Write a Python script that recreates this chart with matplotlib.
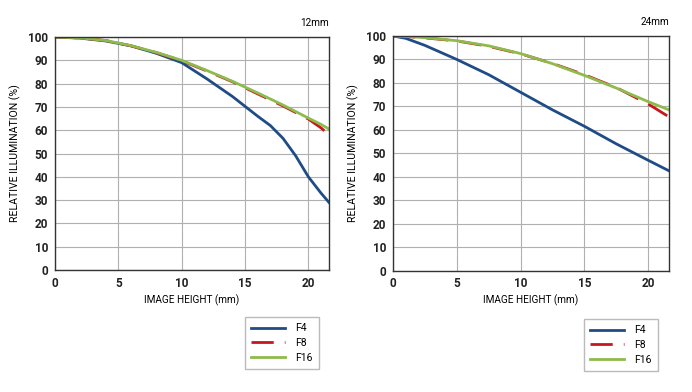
import matplotlib
matplotlib.use("Agg")
import matplotlib.pyplot as plt
from matplotlib.lines import Line2D

plt.rcParams['font.family'] = ['Roboto', 'DejaVu Sans']

# 12mm
h12 = [0, 2, 4, 6, 8, 10, 12, 14, 16, 17, 18, 19, 20, 21, 21.63]
f4_12 = [100, 99.5, 98.3, 96.2, 93, 89, 82, 74.5, 66, 62, 56.5, 49, 40, 33, 29]
h12b = [0, 2, 4, 6, 8, 10, 12, 14, 16, 18, 20, 21, 21.63]
f16_12 = [100, 99.6, 98.5, 96.3, 93.4, 90, 85.6, 81, 76, 70.8, 65.2, 62.5, 60.5]
f8_12 = [100, 99.6, 98.5, 96.2, 93.3, 89.8, 85.4, 80.8, 75.6, 70.4, 64.8, 61, 58]

# 24mm
h24 = [0, 1, 2.5, 5, 7.5, 10, 12.5, 15, 17.5, 20, 21.63]
f4_24 = [100, 99, 96, 90, 83.5, 76, 68.5, 61.5, 54, 47, 42.5]
f16_24 = [100, 99.8, 99.3, 98, 95.8, 92.5, 88.2, 83.2, 77.8, 72, 68.5]
f8_24 = [100, 99.8, 99.2, 97.9, 95.6, 92.4, 88.3, 83.5, 78, 71, 65.5]

c_f4 = '#1f4c86'
c_f8 = '#c8161d'
c_f16 = '#8fba4c'

fig = plt.figure(figsize=(6.92, 3.92), dpi=100)

def setup(ax, title):
    ax.set_xlim(0, 21.63)
    ax.set_ylim(0, 100)
    ax.set_xticks([0, 5, 10, 15, 20])
    ax.set_yticks(range(0, 101, 10))
    ax.grid(True, color='#b0b0b0', linewidth=0.8)
    ax.set_axisbelow(True)
    for s in ax.spines.values():
        s.set_color('#333333')
        s.set_linewidth(1.0)
    ax.tick_params(length=0, labelsize=8.5, pad=5, colors='#222222')
    for lab in ax.get_xticklabels() + ax.get_yticklabels():
        lab.set_fontweight('bold')
    ax.set_xlabel('IMAGE HEIGHT (mm)', fontsize=7.2, labelpad=3)
    ax.set_ylabel('RELATIVE ILLUMINATION (%)', fontsize=7.6, labelpad=5)
    ax.text(1.0, 1.04, title, transform=ax.transAxes, ha='right', va='bottom', fontsize=7.2)

# left panel
ax1 = fig.add_axes([55/692, 1 - 270/392, 274/692, 233/392])
setup(ax1, '12mm')
ax1.plot(h12, f4_12, color=c_f4, lw=2)
ax1.plot(h12b, f8_12, color=c_f8, lw=2, dashes=(8, 4))
ax1.plot(h12b, f16_12, color=c_f16, lw=2)

# right panel
ax2 = fig.add_axes([393/692, 1 - 270.5/392, 276/692, 234.5/392])
setup(ax2, '24mm')
ax2.plot(h24, f4_24, color=c_f4, lw=2)
ax2.plot(h24, f8_24, color=c_f8, lw=2, dashes=(8, 4))
ax2.plot(h24, f16_24, color=c_f16, lw=2)

handles = [Line2D([], [], color=c_f4, lw=2),
           Line2D([], [], color=c_f8, lw=2, dashes=(8, 4)),
           Line2D([], [], color=c_f16, lw=2)]
labels = ['F4', 'F8', 'F16']

for (x0, y0) in [(245, 369), (584, 371)]:
    fig.legend(handles, labels, loc='lower left',
               bbox_to_anchor=(x0/692, 1 - y0/392), fontsize=7.5,
               frameon=True, fancybox=False, edgecolor='#aaaaaa',
               handlelength=3.2, borderpad=0.6, labelspacing=0.45,
               handletextpad=1.0, borderaxespad=0)

fig.savefig('out.png', dpi=100)
